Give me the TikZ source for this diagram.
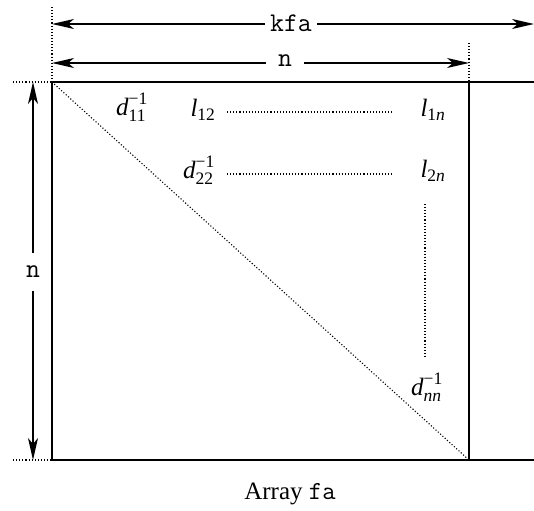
\documentclass[tikz,border=0pt]{standalone}
\usepackage{amsmath}
\usepackage{fontspec}
\setmainfont{Liberation Serif}
\usetikzlibrary{arrows.meta}
\tikzset{
  frame/.style={line width=1.6pt},
  dimline/.style={line width=1.6pt,{Stealth[length=22pt,width=10pt,inset=6pt]}-{Stealth[length=22pt,width=10pt,inset=6pt]}},
  dotline/.style={line width=1.1pt,dash pattern=on 1.1pt off 2pt},
  lab/.style={inner sep=0pt,font=\fontsize{25}{28}\selectfont},
  dimlab/.style={fill=white,inner ysep=2pt,font=\fontsize{27}{30}\selectfont\ttfamily}
}
\begin{document}
\begin{tikzpicture}[x=1pt,y=-1pt]
\useasboundingbox (0,0) rectangle (534,510);
% corners
\coordinate (tl) at (52,82);
\coordinate (tr) at (469,82);
\coordinate (bl) at (52,460);
\coordinate (br) at (469,460);
\coordinate (te) at (534,82);
\coordinate (be) at (534,460);
% frame
\draw[frame] (te) -- (tl) -- (bl) -- (be);
\draw[frame] (tr) -- (br);
% extension dotted lines
\coordinate (tlup) at (52,7);
\coordinate (trup) at (469,43);
\coordinate (tll) at (13,82);
\coordinate (bll) at (13,460);
\draw[dotline] (tlup) -- (tl);
\draw[dotline] (trup) -- (tr);
\draw[dotline] (tll) -- (tl);
\draw[dotline] (bll) -- (bl);
% diagonal
\draw[dotline] (tl) -- (br);
% dimension arrows
\coordinate (ka) at (52,24);
\coordinate (kb) at (534,24);
\draw[dimline] (ka) -- (kb);
\node[dimlab,inner xsep=5pt] (kfa) at (291,23) {kfa};
\coordinate (na) at (52,63);
\coordinate (nb) at (469,63);
\draw[dimline] (na) -- (nb);
\node[dimlab,inner xsep=12pt] (ntop) at (285,61) {n};
\coordinate (va) at (33,82);
\coordinate (vb) at (33,460);
\draw[dimline] (va) -- (vb);
\node[dimlab,inner xsep=2pt,inner ysep=13pt] (nleft) at (33,272) {n};
% entries
\node[lab] (d11) at (132,107) {$\textit{d}^{\text{−1}}_{\text{11}}$};
\node[lab] (l12) at (203,110) {$\textit{l}_{\text{12}}$};
\node[lab] (l1n) at (433,110) {$\textit{l}_{\text{1\textit{n}}}$};
\node[lab] (d22) at (199,170) {$\textit{d}^{\text{−1}}_{\text{22}}$};
\node[lab] (l2n) at (433,171) {$\textit{l}_{\text{2\textit{n}}}$};
\node[lab] (dnn) at (427,387) {$\textit{d}^{\text{−1}}_{\textit{nn}}$};
\coordinate (r1a) at (227,112);
\coordinate (r1b) at (393,112);
\coordinate (r2a) at (227,174);
\coordinate (r2b) at (393,174);
\coordinate (c1a) at (425,204);
\coordinate (c1b) at (425,357);
\draw[dotline] (r1a) -- (r1b);
\draw[dotline] (r2a) -- (r2b);
\draw[dotline] (c1a) -- (c1b);
% caption
\node[lab,anchor=base] (cap) at (290,499) {Array {\fontsize{26}{28}\selectfont\ttfamily fa}};
\end{tikzpicture}
\end{document}
